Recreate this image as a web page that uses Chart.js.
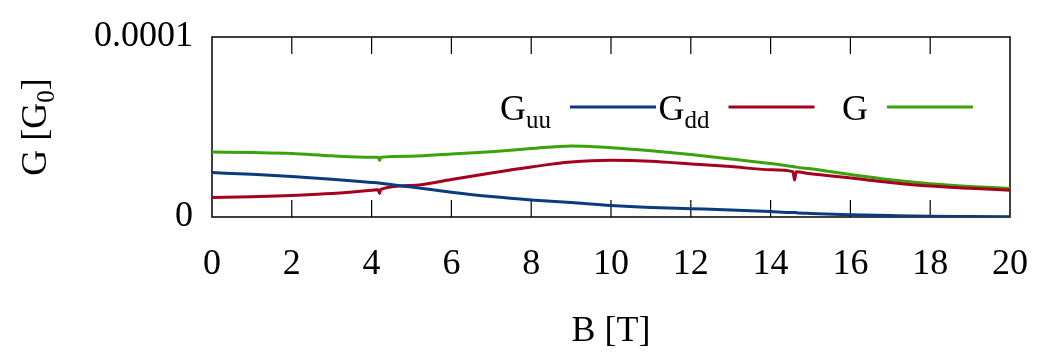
<!DOCTYPE HTML>
<html>
	<head>
		<title>G vs B</title>
		<meta charset="utf-8" />
		<style>
			html, body { margin: 0; padding: 0; background: #fff; }
			canvas { display: block; }
		</style>
	</head>
	<body>
		<canvas id="g-chart" width="1063" height="355"></canvas>

		<script src="https://cdn.jsdelivr.net/npm/chart.js"></script>
		<script>
			// magnetic field B [T]
			const bField = [0, 1, 2, 3, 4, 4.17, 4.2, 4.23, 5, 6, 7, 8, 9, 10, 11, 12, 13, 14, 14.56, 14.6, 14.64, 15, 16, 17, 18, 19, 20];

			// conductances [G0]
			const gUU = [2.47e-5, 2.37e-5, 2.25e-5, 2.10e-5, 1.92e-5, 1.89e-5, 1.88e-5, 1.87e-5, 1.66e-5, 1.38e-5, 1.14e-5, 0.95e-5, 0.80e-5, 0.64e-5, 0.53e-5, 0.46e-5, 0.39e-5, 0.30e-5, 0.25e-5, 0.25e-5, 0.24e-5, 0.20e-5, 0.13e-5, 0.08e-5, 0.04e-5, 0.03e-5, 0.02e-5];
			const gDD = [1.09e-5, 1.13e-5, 1.20e-5, 1.30e-5, 1.48e-5, 1.52e-5, 1.30e-5, 1.53e-5, 1.75e-5, 2.08e-5, 2.45e-5, 2.78e-5, 3.05e-5, 3.15e-5, 3.10e-5, 2.95e-5, 2.80e-5, 2.63e-5, 2.52e-5, 2.05e-5, 2.51e-5, 2.40e-5, 2.17e-5, 1.92e-5, 1.72e-5, 1.60e-5, 1.49e-5];
			const gTot = [3.61e-5, 3.58e-5, 3.53e-5, 3.40e-5, 3.32e-5, 3.32e-5, 3.15e-5, 3.32e-5, 3.38e-5, 3.50e-5, 3.63e-5, 3.80e-5, 3.95e-5, 3.85e-5, 3.68e-5, 3.47e-5, 3.22e-5, 2.97e-5, 2.80e-5, 2.79e-5, 2.77e-5, 2.68e-5, 2.36e-5, 2.07e-5, 1.85e-5, 1.70e-5, 1.59e-5];

			const seriesLabels = ["G_uu", "G_dd", "G"];
			const seriesColors = ["#0b3b7f", "#a5001e", "#3ba20c"];

			const yTickValues = [0, 1e-4];
			const yTickLabels = ["0", "0.0001"];

			const FONT = "'Liberation Serif', 'DejaVu Serif', serif";
			const FS = 36;

			function toPoints(ys) {
				return bField.map((b, i) => ({ x: b, y: ys[i] }));
			}

			// draw "main_sub" text with a lowered subscript
			function subText(ctx, label, x, y, align) {
				const parts = label.split("_");
				const main = parts[0], sub = parts[1] || "";
				ctx.font = FS + "px " + FONT;
				const wMain = ctx.measureText(main).width;
				ctx.font = Math.round(FS * 0.7) + "px " + FONT;
				const wSub = ctx.measureText(sub).width;
				const total = wMain + wSub;
				let x0 = x;
				if (align === "right") x0 = x - total;
				if (align === "center") x0 = x - total / 2;
				ctx.textAlign = "left";
				ctx.textBaseline = "alphabetic";
				ctx.font = FS + "px " + FONT;
				ctx.fillText(main, x0, y);
				ctx.font = Math.round(FS * 0.7) + "px " + FONT;
				ctx.fillText(sub, x0 + wMain, y + 8);
			}

			const framePlugin = {
				id: "frame",
				beforeDatasetsDraw(chart) {
					const { ctx, chartArea: a, scales } = chart;
					ctx.save();
					ctx.strokeStyle = "#000";
					ctx.lineWidth = 1.5;
					ctx.strokeRect(a.left, a.top, a.right - a.left, a.bottom - a.top);
					// inward ticks, bottom and top
					ctx.lineWidth = 1.2;
					scales.x.ticks.forEach(t => {
						const px = scales.x.getPixelForValue(t.value);
						if (t.value === 0 || t.value === 20) return;
						ctx.beginPath();
						ctx.moveTo(px, a.bottom);
						ctx.lineTo(px, a.bottom - 17);
						ctx.moveTo(px, a.top);
						ctx.lineTo(px, a.top + 17);
						ctx.stroke();
					});
					ctx.restore();
				},
				afterDraw(chart) {
					const { ctx, chartArea: a } = chart;
					ctx.save();
					ctx.fillStyle = "#000";

					// key: text then line sample
					chart.data.datasets.forEach((ds, i) => {
						const sx = a.left + 358 + i * 158.5;
						subText(ctx, ds.label, sx - 19, 120, "right");
						ctx.strokeStyle = ds.borderColor;
						ctx.lineWidth = 3;
						ctx.beginPath();
						ctx.moveTo(sx, 107);
						ctx.lineTo(sx + 86, 107);
						ctx.stroke();
					});

					// x title
					subText(ctx, "B [T]", (a.left + a.right) / 2, 341, "center");

					// y title, rotated
					ctx.translate(46, (a.top + a.bottom) / 2);
					ctx.rotate(-Math.PI / 2);
					ctx.font = FS + "px " + FONT;
					const w1 = ctx.measureText("G [G").width;
					const w3 = ctx.measureText("]").width;
					ctx.font = Math.round(FS * 0.7) + "px " + FONT;
					const w2 = ctx.measureText("0").width;
					let x0 = -(w1 + w2 + w3) / 2;
					ctx.textAlign = "left";
					ctx.textBaseline = "alphabetic";
					ctx.font = FS + "px " + FONT;
					ctx.fillText("G [G", x0, 0);
					ctx.font = Math.round(FS * 0.7) + "px " + FONT;
					ctx.fillText("0", x0 + w1, 8);
					ctx.font = FS + "px " + FONT;
					ctx.fillText("]", x0 + w1 + w2, 0);
					ctx.restore();
				}
			};

			const ctx = document.getElementById("g-chart").getContext("2d");
			new Chart(ctx, {
				type: "line",
				data: {
					datasets: [gUU, gDD, gTot].map((ys, i) => ({
						label: seriesLabels[i],
						data: toPoints(ys),
						borderColor: seriesColors[i],
						backgroundColor: seriesColors[i],
						borderWidth: 3,
						pointRadius: 0,
						fill: false,
						cubicInterpolationMode: "monotone"
					}))
				},
				options: {
					responsive: false,
					animation: false,
					devicePixelRatio: 1,
					layout: { padding: { top: 36, right: 53, left: 0, bottom: 0 } },
					plugins: {
						legend: { display: false },
						tooltip: { enabled: false }
					},
					scales: {
						x: {
							type: "linear",
							min: 0,
							max: 20,
							afterFit(scale) { scale.height = 138; },
							grid: { display: false, drawTicks: false },
							border: { display: false },
							ticks: {
								stepSize: 2,
								color: "#000",
								padding: 30,
								maxRotation: 0,
								font: { family: FONT, size: FS, lineHeight: 1 }
							}
						},
						y: {
							min: 0,
							max: 1e-4,
							afterFit(scale) { scale.width = 212; },
							afterBuildTicks(scale) {
								scale.ticks = yTickValues.map(v => ({ value: v }));
							},
							grid: { display: false, drawTicks: false },
							border: { display: false },
							ticks: {
								color: "#000",
								padding: 19,
								font: { family: FONT, size: FS, lineHeight: 1 },
								callback: (v, i) => yTickLabels[i]
							}
						}
					}
				},
				plugins: [framePlugin]
			});
		</script>
	</body>
</html>
